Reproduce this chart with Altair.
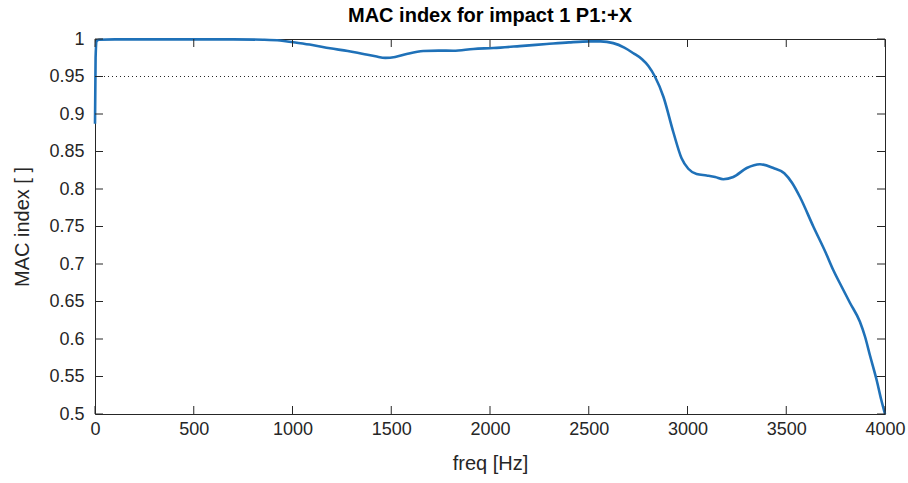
import altair as alt
import pandas as pd

# ---- data ----
freq = [0, 3, 8, 20, 100, 300, 500, 700, 850, 937, 1004, 1100, 1190, 1280, 1359,
        1420, 1470, 1520, 1578, 1662, 1740, 1814, 1916, 2017, 2150, 2287, 2400,
        2506, 2560, 2624, 2680, 2726, 2770, 2802, 2835, 2878, 2928, 2970, 3004,
        3046, 3097, 3140, 3181, 3232, 3300, 3367, 3435, 3490, 3530, 3570, 3637,
        3700, 3738, 3780, 3823, 3873, 3899, 3924, 3958, 3980, 4000]
mac = [0.887, 0.975, 0.997, 0.999, 0.9995, 0.9995, 0.9995, 0.9995, 0.999, 0.998,
       0.9956, 0.992, 0.9876, 0.984, 0.980, 0.977, 0.9748, 0.976, 0.980, 0.984,
       0.9845, 0.9844, 0.9867, 0.988, 0.9905, 0.9933, 0.9955, 0.9968, 0.9968,
       0.9945, 0.9885, 0.981, 0.973, 0.964, 0.950, 0.923, 0.876, 0.841, 0.827,
       0.820, 0.818, 0.816, 0.813, 0.816, 0.828, 0.833, 0.828, 0.821, 0.808, 0.789,
       0.750, 0.715, 0.692, 0.670, 0.648, 0.623, 0.603, 0.578, 0.545, 0.520, 0.500]
x_ticks = [0, 500, 1000, 1500, 2000, 2500, 3000, 3500, 4000]
y_ticks = [0.5, 0.55, 0.6, 0.65, 0.7, 0.75, 0.8, 0.85, 0.9, 0.95, 1.0]
threshold = [0.95]
title_text = "MAC index for impact 1 P1:+X"
x_title = "freq [Hz]"
y_title = "MAC index [ ]"

W, H = 790, 375
FONT = "Liberation Sans"
AX = "#262626"
TL = 8

df = pd.DataFrame({"freq": freq, "mac": mac})
xt = pd.DataFrame({"freq": x_ticks})
yt = pd.DataFrame({"mac": y_ticks})
thr = pd.DataFrame({"mac": threshold})

xs = alt.Scale(domain=[0, 4000], nice=False, zero=False)
ys = alt.Scale(domain=[0.5, 1.0], nice=False, zero=False)

xaxis = alt.Axis(values=x_ticks, format="d", ticks=False, domain=False, grid=False,
                 labelFont=FONT, labelFontSize=18, labelColor=AX, labelPadding=6,
                 titleFont=FONT, titleFontSize=20, titleFontWeight="normal",
                 titleColor=AX, titlePadding=15, labelFlush=False)
yaxis = alt.Axis(values=y_ticks, format="~g", ticks=False, domain=False, grid=False,
                 labelFont=FONT, labelFontSize=18, labelColor=AX, labelPadding=11,
                 titleFont=FONT, titleFontSize=20, titleFontWeight="normal",
                 titleColor=AX, titlePadding=16, labelFlush=False)


def X():
    return alt.X("freq:Q", scale=xs, title=x_title, axis=xaxis)


def Y():
    return alt.Y("mac:Q", scale=ys, title=y_title, axis=yaxis)


line = alt.Chart(df).mark_line(color="#1f71b8", strokeWidth=2.6,
                               interpolate="monotone").encode(x=X(), y=Y())

dotted = alt.Chart(thr).mark_rule(color=AX, strokeWidth=1, strokeDash=[1, 3]).encode(y=Y())

xb = alt.Chart(xt).mark_rule(color=AX, strokeWidth=1).encode(
    x=X(), y=alt.value(H), y2=alt.value(H - TL))
xtop = alt.Chart(xt).mark_rule(color=AX, strokeWidth=1).encode(
    x=X(), y=alt.value(0), y2=alt.value(TL))
yl = alt.Chart(yt).mark_rule(color=AX, strokeWidth=1).encode(
    y=Y(), x=alt.value(0), x2=alt.value(TL))
yr = alt.Chart(yt).mark_rule(color=AX, strokeWidth=1).encode(
    y=Y(), x=alt.value(W), x2=alt.value(W - TL))

chart = alt.layer(line, dotted, xb, xtop, yl, yr).properties(
    width=W, height=H,
    title=alt.Title(title_text, font=FONT, fontSize=20, fontWeight="bold",
                    color="#000000", anchor="middle", frame="group", offset=4),
    autosize=alt.AutoSizeParams(type="none"),
    padding={"left": 95, "top": 39, "right": 23, "bottom": 69},
    background="white",
).configure_view(stroke=AX, strokeWidth=1)

chart.save("out.html", embed_options={"renderer": "svg", "actions": False})
